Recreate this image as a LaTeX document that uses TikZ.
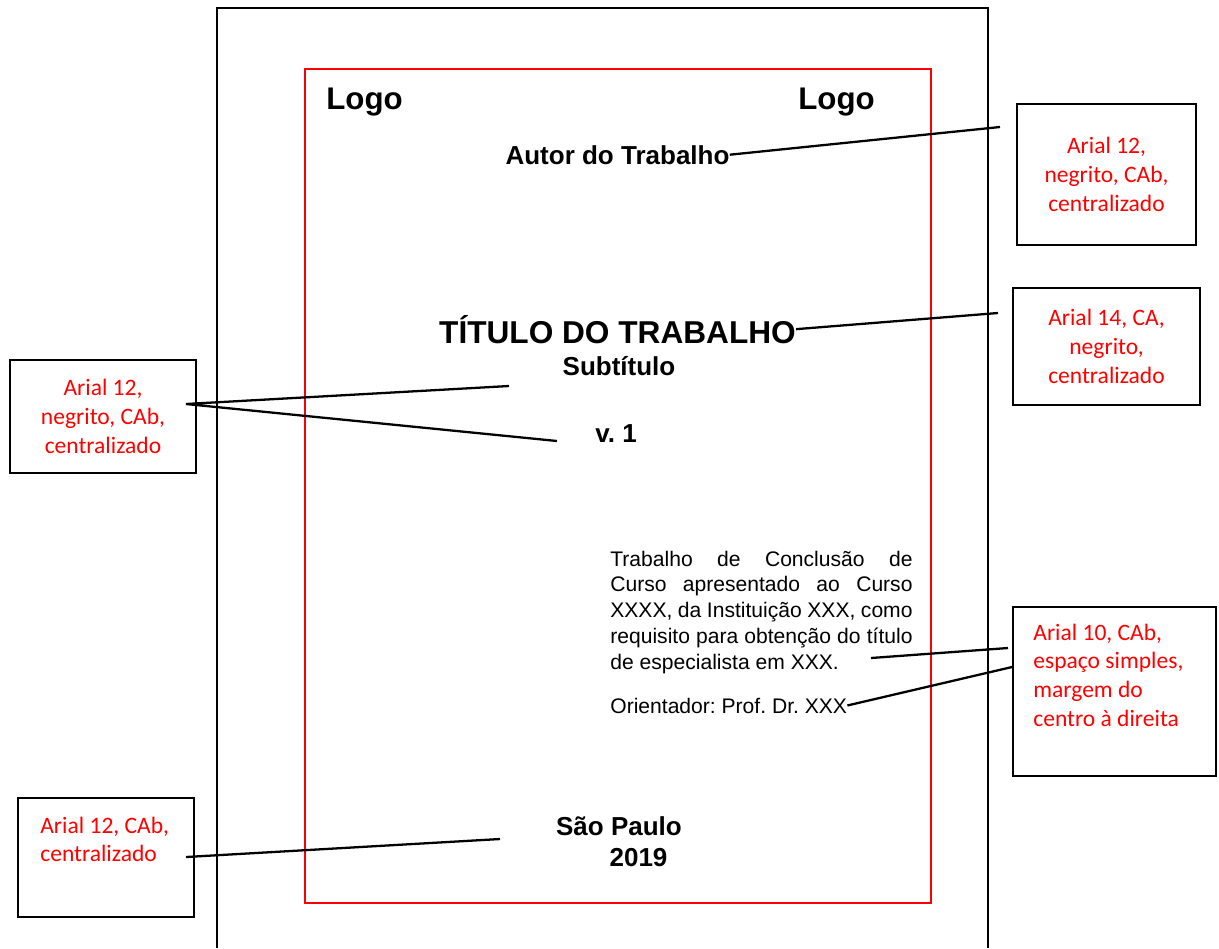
\documentclass[tikz,border=0pt]{standalone}
\usepackage{fontspec}
\setmainfont{Liberation Sans}
\newfontfamily\notefont{Carlito}
\usetikzlibrary{calc}
\frenchspacing
\begin{document}
\begin{tikzpicture}[x=0.02cm,y=-0.02cm]
            % Define styles
            \tikzstyle{pagetext} = [inner sep=0,font=\bfseries\fontsize{14.8}{17}\selectfont]
            \tikzstyle{logotext} = [inner sep=0,font=\bfseries\fontsize{17.8}{21}\selectfont]
            \tikzstyle{titletext} = [inner sep=0,font=\bfseries\fontsize{18}{21}\selectfont]
            \tikzstyle{bodytext} = [inner sep=0,font=\fontsize{12}{14.7}\selectfont]
            \tikzstyle{notebox} = [draw,line width=1.5pt,inner sep=0,text=red,align=flush center,font=\notefont\fontsize{13.4}{16.4}\selectfont]
            \tikzstyle{notetext} = [inner sep=0,text=red,align=flush left,font=\notefont\fontsize{13.4}{16.4}\selectfont]
            \tikzstyle{link} = [line width=1.3pt,draw=black]
            \useasboundingbox (0,0) rectangle (1219,948);
            % Sheet and margins
                \draw [line width=0.7pt] (217,948) -- (217,8) -- (988,8) -- (988,948);
                \draw [red,line width=0.7pt] (305,69) rectangle (931,903);
            % Cover texts
            	% Header
            	\node (logoL) at (326,109) [logotext,anchor=base west]{Logo};
            	\node (logoR) at (798,109) [logotext,anchor=base west]{Logo};
            	\node (autor) at (617.5,164) [pagetext,anchor=base]{Autor do Trabalho};
            	% Title
            	\node (titulo) at (617.5,343) [titletext,anchor=base]{TÍTULO DO TRABALHO};
            	\node (subtitulo) at (619,375) [pagetext,anchor=base]{Subtítulo};
            	\node (volume) at (616,442) [pagetext,anchor=base]{v. 1};
            	% Nature of the work
            	\node (natureza) at (610,566) [bodytext,anchor=base west,text width=172pt,align=justify]{Trabalho de Conclusão de\linebreak Curso apresentado ao Curso\linebreak XXXX, da Instituição XXX, como\linebreak requisito para obtenção do título\linebreak de especialista em XXX.};
            	\node (orient) at (610,713) [bodytext,anchor=base west]{Orientador: Prof. Dr. XXX};
            	% Place and year
            	\node (cidade) at (619,835) [pagetext,anchor=base]{São Paulo};
            	\node (ano) at (638.5,866) [pagetext,anchor=base]{2019};
            % Notes
                \node (boxA) at (1106.5,174.5) [notebox,minimum width=3.58cm,minimum height=2.82cm]{Arial 12,\\negrito, CAb,\\centralizado};
                \node (boxB) at (1106.5,346.5) [notebox,minimum width=3.74cm,minimum height=2.34cm]{Arial 14, CA,\\negrito,\\centralizado};
                \node (boxC) at (103,416.5) [notebox,minimum width=3.72cm,minimum height=2.26cm]{Arial 12,\\negrito, CAb,\\centralizado};
                \node (boxD) at (1114.5,691.5) [notebox,minimum width=4.06cm,minimum height=3.38cm]{};
                \node (noteD) at (1033,640) [notetext,anchor=base west,text width=3.5cm]{Arial 10, CAb,\\espaço simples,\\margem do\\centro à direita};
                \node (boxE) at (106,857.5) [notebox,minimum width=3.52cm,minimum height=2.38cm]{};
                \node (noteE) at (40,833) [notetext,anchor=base west,text width=3.1cm]{Arial 12, CAb,\\centralizado};
            % Lines from the notes
                \coordinate (autorTip) at (1000,127);
                \coordinate (tituloTip) at (998,313);
                \coordinate (hubC) at (186,404);
                \coordinate (subTip) at (509,386);
                \coordinate (volTip) at (557,441);
                \coordinate (paraTip) at (871,658);
                \coordinate (dTipA) at (1008,648);
                \coordinate (dTipB) at (1012,667);
                \coordinate (hubE) at (186,857);
                \coordinate (cityTip) at (500,839);
                \draw [link] (autor.east) -- (autorTip);
                \draw [link] (titulo.east) -- (tituloTip);
                \draw [link] (subTip) -- (hubC) -- (volTip);
                \draw [link] (paraTip) -- (dTipA);
                \draw [link] (orient.east) -- (dTipB);
                \draw [link] (hubE) -- (cityTip);
\end{tikzpicture}
\end{document}
